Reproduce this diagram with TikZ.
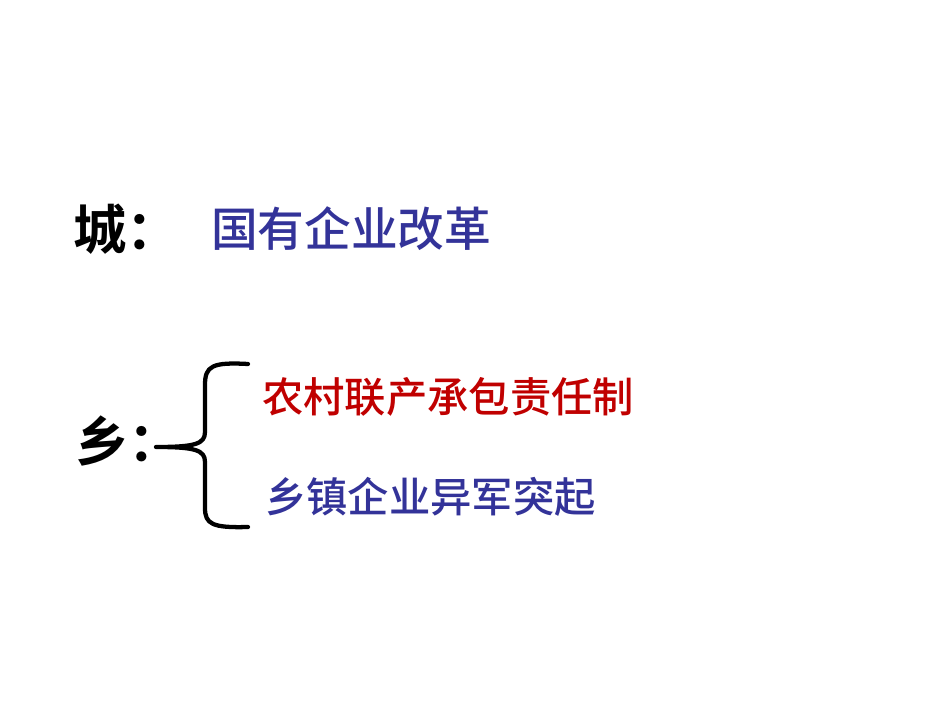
\documentclass[tikz,border=0pt]{standalone}
\usepackage{fontspec}
\newfontfamily\cjk{Noto Sans CJK SC}[BoldFont={Noto Sans CJK SC Bold}]
\newfontfamily\cjkmid{Noto Sans CJK SC Medium}
\definecolor{itemblue}{RGB}{51,51,153}
\definecolor{itemred}{RGB}{192,0,0}
\usetikzlibrary{positioning}

\begin{document}
\begin{tikzpicture}[x=0.75pt,y=-0.75pt,
  label/.style={inner sep=0pt,anchor=west,font=\cjk\bfseries\fontsize{40}{40}\selectfont},
  item/.style={inner sep=0pt,anchor=west,font=\cjkmid\fontsize{31}{31}\selectfont},
  brace/.style={line width=3.2pt,line cap=round,line join=round}]
\useasboundingbox[fill=white] (0,0) rectangle (950,713);
\node[label] (city) at (73,229) {城：};
\node[item,text=itemblue,font=\cjkmid\fontsize{35}{35}\selectfont] (reform) at (211,229) {国有企业改革};
\node[label] (country) at (75,441) {乡：};
\node[item,text=itemred] (contract) at (262,397) {农村联产承包责任制};
\node[item,text=itemblue] (tve) at (265,497) {乡镇企业异军突起};
\coordinate (top) at (248,364);
\coordinate (tip) at (156,447);
\coordinate (bottom) at (248,527);
\draw[brace] (top) .. controls (212,362) and (205,366) .. (205,385) -- (205,432)
  .. controls (205,444) and (195,447) .. (tip)
  .. controls (195,447) and (205,450) .. (205,462) -- (205,508)
  .. controls (205,524) and (212,528) .. (bottom);
\end{tikzpicture}
\end{document}
